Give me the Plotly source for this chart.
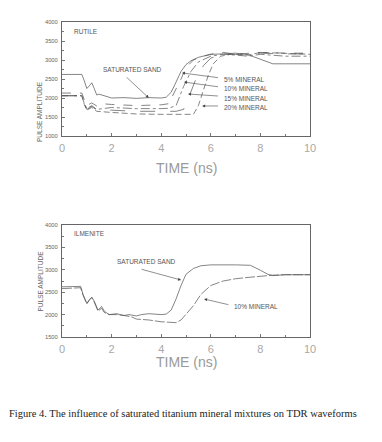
import plotly.graph_objects as go

# ---------------- RUTILE (top panel) ----------------
r_sand_t = [0, 0.8, 0.9, 1.0, 1.1, 1.2, 1.3, 1.4, 1.5, 1.6, 1.8, 2.0, 2.5, 3.0, 3.5, 4.0, 4.2, 4.4, 4.6, 4.8, 5.0, 5.2, 5.5, 6.0, 6.5, 7.0, 7.5, 8.0, 8.5, 9.0, 10]
r_sand_v = [2620, 2620, 2450, 2250, 2320, 2400, 2250, 2080, 2100, 2080, 2030, 2000, 2010, 1990, 2010, 2000, 2020, 2150, 2420, 2700, 2880, 2980, 3070, 3150, 3160, 3180, 3140, 3030, 2900, 2900, 2900]

r_5_t = [0, 0.8, 0.9, 1.0, 1.2, 1.4, 1.6, 2.0, 3.0, 4.0, 4.3, 4.5, 4.8, 5.0, 5.3, 5.7, 6.0, 6.5, 7.0, 8.0, 9.0, 10]
r_5_v = [2130, 2130, 1950, 1800, 1870, 1790, 1850, 1830, 1800, 1820, 1850, 2100, 2500, 2800, 3000, 3100, 3150, 3200, 3150, 3200, 3180, 3180]

r_10_t = [0, 0.8, 0.9, 1.0, 1.2, 1.4, 2.0, 3.0, 4.0, 4.3, 4.6, 4.9, 5.2, 5.5, 6.0, 6.5, 7.0, 7.5, 8.0, 9.0, 10]
r_10_v = [2060, 2060, 1850, 1720, 1800, 1700, 1750, 1720, 1720, 1730, 1800, 2300, 2700, 2950, 3100, 3150, 3130, 3100, 3150, 3100, 3100]

r_15_t = [0, 0.8, 0.9, 1.0, 1.2, 1.4, 2.0, 3.0, 4.0, 4.6, 4.9, 5.1, 5.4, 5.7, 6.0, 6.5, 7.0, 8.0, 9.0, 10]
r_15_v = [2060, 2060, 1850, 1700, 1780, 1680, 1680, 1650, 1650, 1650, 1700, 2000, 2500, 2850, 3050, 3150, 3150, 3180, 3160, 3160]

r_20_t = [0, 0.8, 0.9, 1.0, 1.2, 1.4, 2.0, 3.0, 4.0, 5.0, 5.3, 5.5, 5.7, 5.9, 6.1, 6.4, 6.8, 7.5, 8.0, 9.0, 10]
r_20_v = [2060, 2060, 1830, 1680, 1750, 1650, 1620, 1580, 1570, 1560, 1570, 1800, 2200, 2600, 2900, 3100, 3150, 3130, 3200, 3170, 3150]

# ---------------- ILMENITE (bottom panel) ----------------
i_sand_t = [0, 0.75, 0.85, 1.0, 1.1, 1.2, 1.3, 1.45, 1.6, 1.7, 1.9, 2.2, 2.5, 2.7, 3.0, 3.2, 3.5, 4.0, 4.2, 4.4, 4.6, 4.8, 5.0, 5.3, 5.6, 6.0, 7.0, 7.6, 8.0, 8.3, 8.5, 9.0, 10]
i_sand_v = [2620, 2630, 2450, 2250, 2330, 2390, 2300, 2100, 2180, 2080, 2000, 2020, 1980, 2000, 1970, 2000, 2020, 2000, 2010, 2100, 2350, 2650, 2900, 3030, 3090, 3110, 3110, 3100, 2990, 2900, 2870, 2890, 2890]

i_10_t = [0, 0.75, 0.85, 1.0, 1.1, 1.2, 1.3, 1.45, 1.6, 1.7, 1.9, 2.2, 2.5, 2.8, 3.0, 3.5, 4.0, 4.3, 4.6, 4.8, 5.0, 5.3, 5.6, 6.0, 6.5, 7.0, 7.5, 8.0, 8.5, 9.0, 10]
i_10_v = [2580, 2600, 2430, 2240, 2320, 2380, 2280, 2080, 2140, 2050, 2000, 2000, 1980, 1950, 1900, 1880, 1840, 1830, 1820, 1880, 2000, 2200, 2450, 2650, 2750, 2800, 2830, 2860, 2880, 2890, 2890]

x_ticks = [0, 2, 4, 6, 8, 10]
top_y_ticks = [1000, 1500, 2000, 2500, 3000, 3500, 4000]
bot_y_ticks = [1500, 2000, 2500, 3000, 3500, 4000]

W, H = 382, 442
def px(x): return x / W
def py(y): return 1 - y / H

LINE = "#505050"
fig = go.Figure()

def add(t, v, dash, xa, ya, col=LINE):
    fig.add_trace(go.Scatter(x=t, y=v, mode="lines", xaxis=xa, yaxis=ya,
                             line=dict(color=col, width=0.7, dash=dash), showlegend=False,
                             hoverinfo="skip"))

add(r_sand_t, r_sand_v, "solid", "x", "y")
add(r_5_t, r_5_v, "dash", "x", "y")
add(r_10_t, r_10_v, "dashdot", "x", "y")
add(r_15_t, r_15_v, "longdash", "x", "y")
add(r_20_t, r_20_v, "6px,3px", "x", "y")
add(i_sand_t, i_sand_v, "solid", "x2", "y2")
add(i_10_t, i_10_v, "10px,2px", "x2", "y2")

FONT = "Liberation Sans, Arial, sans-serif"
def xaxis(anchor):
    return dict(domain=[px(62), px(310)], range=[0, 10], tickvals=x_ticks,
                ticks="inside", ticklen=3, tickcolor="#777", automargin=False,
                minor=dict(dtick=1, ticks="inside", ticklen=2, tickcolor="#777"),
                showgrid=False, zeroline=False, showline=True, linecolor="#666", linewidth=1,
                mirror=True, anchor=anchor, ticklabelstandoff=2,
                tickfont=dict(family=FONT, size=11, color="#a8a8a8"))
def yaxis(anchor, dom, rng, tv):
    return dict(domain=dom, range=rng, tickvals=tv,
                ticks="inside", ticklen=3, tickcolor="#777", automargin=False,
                minor=dict(dtick=250, ticks="inside", ticklen=2, tickcolor="#777"),
                showgrid=False, zeroline=False, showline=True, linecolor="#666", linewidth=1,
                mirror=True, anchor=anchor, ticklabelstandoff=2,
                tickfont=dict(family=FONT, size=5.8, color="#666"))

fig.update_layout(
    width=W, height=H, margin=dict(l=0, r=0, t=0, b=0, autoexpand=False),
    paper_bgcolor="white", plot_bgcolor="white",
    xaxis=xaxis("y"), yaxis=yaxis("x", [py(136), py(22)], [1000, 4000], top_y_ticks),
    xaxis2=xaxis("y2"), yaxis2=yaxis("x2", [py(337), py(225)], [1500, 4000], bot_y_ticks),
)

ann = []
TXT = dict(family=FONT, size=6.5, color="#555")
def label(text, x, y, xref, yref, xanchor="center"):
    ann.append(dict(text=text, x=x, y=y, xref=xref, yref=yref, showarrow=False,
                    xanchor=xanchor, yanchor="middle", font=TXT))
def arrow(hx, hy, tx, ty, xref, yref):
    ann.append(dict(text="", x=hx, y=hy, ax=tx, ay=ty, xref=xref, yref=yref,
                    axref=xref, ayref=yref, showarrow=True, arrowhead=2, arrowsize=1,
                    arrowwidth=0.6, arrowcolor="#444"))

# top panel annotations
label("RUTILE", 0.4, 3740, "x", "y", "left")
label("SATURATED SAND", 2.86, 2740, "x", "y")
arrow(3.5, 2000, 2.55, 2580, "x", "y")
label("5% MINERAL", 6.45, 2500, "x", "y", "left")
arrow(4.84, 2660, 6.35, 2530, "x", "y")
label("10% MINERAL", 6.45, 2240, "x", "y", "left")
arrow(4.92, 2420, 6.35, 2290, "x", "y")
label("15% MINERAL", 6.45, 1975, "x", "y", "left")
arrow(5.08, 2105, 6.35, 2050, "x", "y")
label("20% MINERAL", 6.45, 1740, "x", "y", "left")
arrow(5.65, 1790, 6.35, 1790, "x", "y")

# bottom panel annotations
label("ILMENITE", 0.4, 3800, "x2", "y2", "left")
label("SATURATED SAND", 3.39, 3175, "x2", "y2")
arrow(4.8, 2772, 3.15, 3020, "x2", "y2")
label("10% MINERAL", 6.85, 2192, "x2", "y2", "left")
arrow(5.73, 2348, 6.77, 2214, "x2", "y2")

# axis titles
for yc in (79, 281):
    ann.append(dict(text="PULSE AMPLITUDE", x=px(34), y=py(yc), xref="paper", yref="paper",
                    showarrow=False, textangle=-90, font=dict(family=FONT, size=6.5, color="#666")))
for yc in (168, 372):
    ann.append(dict(text="TIME (ns)", x=px(186), y=py(yc), xref="paper", yref="paper",
                    showarrow=False, font=dict(family=FONT, size=14, color="#9a9a9a")))

ann.append(dict(text="Figure 4. The influence of saturated titanium mineral mixtures on TDR waveforms",
                x=px(183), y=py(421), xref="paper", yref="paper", showarrow=False,
                font=dict(family="Liberation Serif, Times New Roman, serif", size=10.5, color="#222")))

fig.update_layout(annotations=ann)
fig.write_html("out.html", config={"displayModeBar": False},
               post_script="document.body.style.margin='0';document.body.style.overflow='hidden';")
